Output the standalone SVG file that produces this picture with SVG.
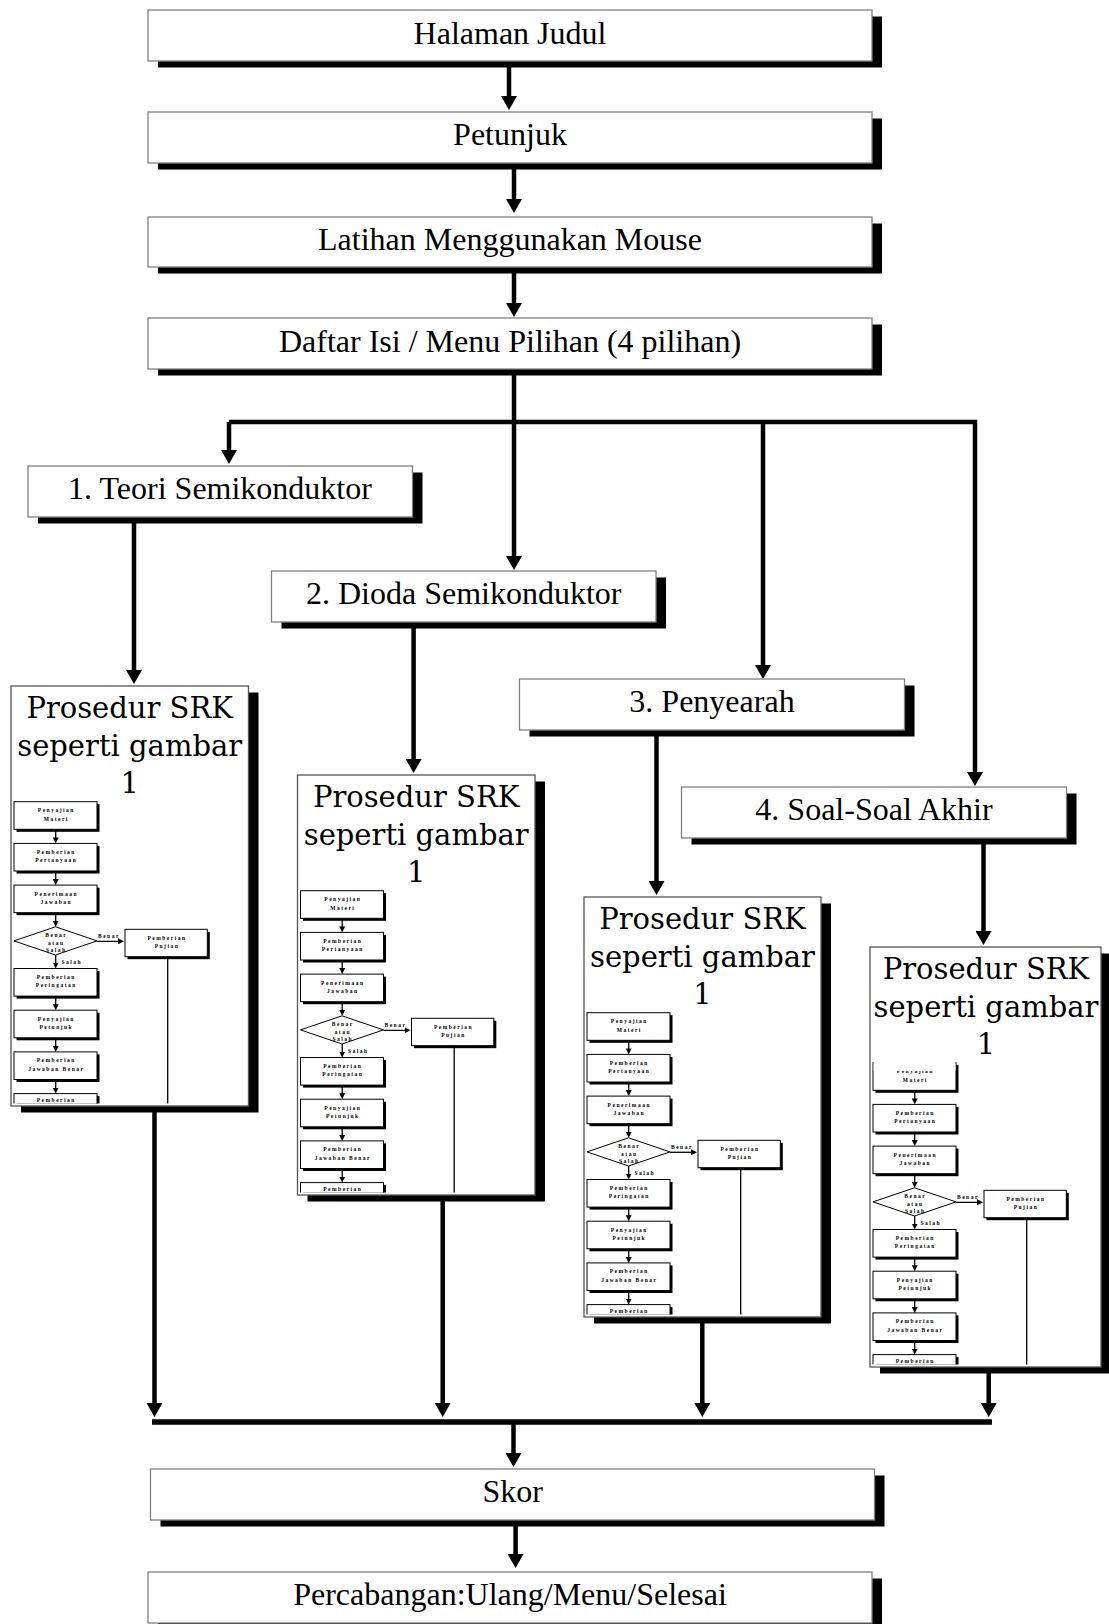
<svg xmlns="http://www.w3.org/2000/svg" width="1109" height="1624" viewBox="0 0 1109 1624">
<defs>
<style>
.bx{fill:#fff;stroke:#808080;stroke-width:1.3}
.pbx{fill:#fff;stroke:#555;stroke-width:1.3}
.sh{fill:#000}
.t{font-family:"Liberation Serif","Times New Roman",serif;font-size:32px;text-anchor:middle;fill:#000}
.pt{font-family:"DejaVu Serif",serif;font-size:29px;text-anchor:middle;fill:#000}
.c{fill:none;stroke:#000;stroke-width:4.5}
.bar{fill:none;stroke:#000;stroke-width:5.4}
.mb{fill:#fff;stroke:#000;stroke-width:1}
.ms{fill:#000}
.mt{font-family:"Liberation Serif","Times New Roman",serif;font-size:5.5px;font-weight:bold;letter-spacing:1.5px;text-anchor:middle;fill:#000}
.ml{fill:none;stroke:#000;stroke-width:1.3}
</style>
<marker id="ah" markerUnits="userSpaceOnUse" viewBox="0 0 14 16" refX="6" refY="8" markerWidth="14" markerHeight="16" orient="auto"><path d="M0,0 L14,8 L0,16 z" fill="#000"/></marker>
<marker id="sah" markerUnits="userSpaceOnUse" viewBox="0 0 6 6" refX="3" refY="3" markerWidth="6" markerHeight="6" orient="auto"><path d="M0,0 L6,3 L0,6 z" fill="#000"/></marker>
<clipPath id="mclip"><rect x="0" y="100" width="240" height="317.5"/></clipPath>
<g id="mini" clip-path="url(#mclip)">
  <rect class="ms" x="5.5" y="118.2" width="83" height="27.6"/><rect class="mb" x="3" y="115.7" width="83" height="27.6"/>
  <text class="mt" x="45.3" y="126.2">Penyajian</text><text class="mt" x="45.3" y="134.5">Materi</text>
  <rect class="ms" x="5.5" y="159.9" width="83" height="27.6"/><rect class="mb" x="3" y="157.4" width="83" height="27.6"/>
  <text class="mt" x="45.3" y="167.9">Pemberian</text><text class="mt" x="45.3" y="176.2">Pertanyaan</text>
  <rect class="ms" x="5.5" y="201.6" width="83" height="27.6"/><rect class="mb" x="3" y="199.1" width="83" height="27.6"/>
  <text class="mt" x="45.3" y="209.6">Penerimaan</text><text class="mt" x="45.3" y="217.9">Jawaban</text>
  <polygon class="mb" points="3,254.9 44.5,240.8 86,254.9 44.5,269"/>
  <text class="mt" x="45.3" y="250.7">Benar</text><text class="mt" x="45.3" y="259">atau</text><text class="mt" x="45.3" y="266.3">Salah</text>
  <text class="mt" x="87" y="251.7" style="text-anchor:start">Benar</text>
  <text class="mt" x="50.5" y="278" style="text-anchor:start">Salah</text>
  <rect class="ms" x="116.5" y="245.8" width="82.3" height="27.4"/><rect class="mb" x="114" y="243.3" width="82.3" height="27.4"/>
  <text class="mt" x="156" y="254.3">Pemberian</text><text class="mt" x="156" y="262">Pujian</text>
  <path class="ml" d="M156.7,270.7 V420"/>
  <rect class="ms" x="5.5" y="285" width="83" height="27.6"/><rect class="mb" x="3" y="282.5" width="83" height="27.6"/>
  <text class="mt" x="45.3" y="293">Pemberian</text><text class="mt" x="45.3" y="301.3">Peringatan</text>
  <rect class="ms" x="5.5" y="326.7" width="83" height="27.6"/><rect class="mb" x="3" y="324.2" width="83" height="27.6"/>
  <text class="mt" x="45.3" y="334.7">Penyajian</text><text class="mt" x="45.3" y="343">Petunjuk</text>
  <rect class="ms" x="5.5" y="368.4" width="83" height="27.6"/><rect class="mb" x="3" y="365.9" width="83" height="27.6"/>
  <text class="mt" x="45.3" y="376.4">Pemberian</text><text class="mt" x="45.3" y="384.7">Jawaban Benar</text>
  <rect class="ms" x="5.5" y="410.1" width="83" height="27.6"/><rect class="mb" x="3" y="407.6" width="83" height="27.6"/>
  <text class="mt" x="45.3" y="416.1">Pemberian</text>
  <path class="ml" d="M44.7,143.3 V154.4" marker-end="url(#sah)"/>
  <path class="ml" d="M44.7,185 V196.1" marker-end="url(#sah)"/>
  <path class="ml" d="M44.7,226.7 V237.8" marker-end="url(#sah)"/>
  <path class="ml" d="M44.7,269 V279.5" marker-end="url(#sah)"/>
  <path class="ml" d="M44.7,310.1 V321.2" marker-end="url(#sah)"/>
  <path class="ml" d="M44.7,351.8 V362.9" marker-end="url(#sah)"/>
  <path class="ml" d="M44.7,393.5 V404.6" marker-end="url(#sah)"/>
  <path class="ml" d="M86,255.3 H110" marker-end="url(#sah)"/>
</g>
</defs>

<g id="connectors">
  <path class="c" d="M509,66 V102" marker-end="url(#ah)"/>
  <path class="c" d="M514,168 V205" marker-end="url(#ah)"/>
  <path class="c" d="M514,272 V309" marker-end="url(#ah)"/>
  <path class="c" d="M514,374 V562" marker-end="url(#ah)"/>
  <path class="c" d="M229,422 V456" marker-end="url(#ah)"/>
  <path class="c" d="M229,422 H975 V778" marker-end="url(#ah)"/>
  <path class="c" d="M763,422 V671" marker-end="url(#ah)"/>
  <path class="c" d="M134,522 V676" marker-end="url(#ah)"/>
  <path class="c" d="M413.6,626 V765" marker-end="url(#ah)"/>
  <path class="c" d="M656.5,735 V887" marker-end="url(#ah)"/>
  <path class="c" d="M983.5,843 V937" marker-end="url(#ah)"/>
  <path class="c" d="M154.5,1108 V1409" marker-end="url(#ah)"/>
  <path class="c" d="M442.7,1198 V1409" marker-end="url(#ah)"/>
  <path class="c" d="M702.3,1319 V1409" marker-end="url(#ah)"/>
  <path class="c" d="M988.7,1369 V1409" marker-end="url(#ah)"/>
  <path class="bar" d="M152,1422 H992"/>
  <path class="c" d="M513.5,1422 V1459" marker-end="url(#ah)"/>
  <path class="c" d="M515.6,1525 V1560" marker-end="url(#ah)"/>
</g>

<g id="n-halaman"><rect class="sh" x="158" y="16.5" width="724" height="51"/><rect class="bx" x="148" y="10" width="724" height="51"/><text class="t" x="510" y="43.5">Halaman Judul</text></g>
<g id="n-petunjuk"><rect class="sh" x="158" y="118.5" width="724" height="51"/><rect class="bx" x="148" y="112" width="724" height="51"/><text class="t" x="510" y="145">Petunjuk</text></g>
<g id="n-latihan"><rect class="sh" x="158" y="223.5" width="724" height="50"/><rect class="bx" x="148" y="217" width="724" height="50"/><text class="t" x="510" y="249.5">Latihan Menggunakan Mouse</text></g>
<g id="n-daftar"><rect class="sh" x="158" y="324.5" width="724" height="51"/><rect class="bx" x="148" y="318" width="724" height="51"/><text class="t" x="510" y="351.5">Daftar Isi / Menu Pilihan (4 pilihan)</text></g>
<g id="n-teori"><rect class="sh" x="38" y="472.5" width="384.5" height="51"/><rect class="bx" x="28" y="466" width="384.5" height="51"/><text class="t" x="220" y="498.5">1. Teori Semikonduktor</text></g>
<g id="n-dioda"><rect class="sh" x="281.5" y="577.5" width="384.5" height="51"/><rect class="bx" x="271.5" y="571" width="384.5" height="51"/><text class="t" x="463.7" y="603.5">2. Dioda Semikonduktor</text></g>
<g id="n-penyearah"><rect class="sh" x="529.5" y="685.5" width="385" height="51"/><rect class="bx" x="519.5" y="679" width="385" height="51"/><text class="t" x="712" y="711.5">3. Penyearah</text></g>
<g id="n-soal"><rect class="sh" x="691.5" y="793.5" width="385" height="51"/><rect class="bx" x="681.5" y="787" width="385" height="51"/><text class="t" x="874" y="819.5">4. Soal-Soal Akhir</text></g>

<g id="n-prosedur1"><rect class="sh" x="21" y="692.5" width="237.5" height="420"/><rect class="pbx" x="11" y="686" width="237.5" height="420"/>
  <text class="pt" x="129.7" y="717.5">Prosedur SRK</text><text class="pt" x="129.7" y="755.5">seperti gambar</text><text class="pt" x="129.7" y="793">1</text>
  <use href="#mini" transform="translate(11,686)"/></g>
<g id="n-prosedur2"><rect class="sh" x="307.5" y="781.5" width="237.5" height="420"/><rect class="pbx" x="297.5" y="775" width="237.5" height="420"/>
  <text class="pt" x="416.2" y="806.5">Prosedur SRK</text><text class="pt" x="416.2" y="844.5">seperti gambar</text><text class="pt" x="416.2" y="882">1</text>
  <use href="#mini" transform="translate(297.5,775)"/></g>
<g id="n-prosedur3"><rect class="sh" x="594" y="903.5" width="237" height="420"/><rect class="pbx" x="584" y="897" width="237" height="420"/>
  <text class="pt" x="702.5" y="928.5">Prosedur SRK</text><text class="pt" x="702.5" y="966.5">seperti gambar</text><text class="pt" x="702.5" y="1004">1</text>
  <use href="#mini" transform="translate(584,897)"/></g>
<g id="n-prosedur4"><rect class="sh" x="880" y="953.5" width="231" height="420"/><rect class="pbx" x="870" y="947" width="231" height="420"/>
  <text class="pt" x="986" y="978.5">Prosedur SRK</text><text class="pt" x="986" y="1016.5">seperti gambar</text><text class="pt" x="986" y="1054">1</text>
  <use href="#mini" transform="translate(870,947)"/>
  <rect x="873.6" y="1057" width="81.8" height="14" fill="#fff"/></g>

<g id="n-skor"><rect class="sh" x="160.5" y="1475.5" width="724" height="51"/><rect class="bx" x="150.5" y="1469" width="724" height="51"/><text class="t" x="512.7" y="1502">Skor</text></g>
<g id="n-percabangan"><rect class="sh" x="158" y="1578.5" width="724" height="51"/><rect class="bx" x="148" y="1572" width="724" height="51"/><text class="t" x="510" y="1604.5">Percabangan:Ulang/Menu/Selesai</text></g>
</svg>
